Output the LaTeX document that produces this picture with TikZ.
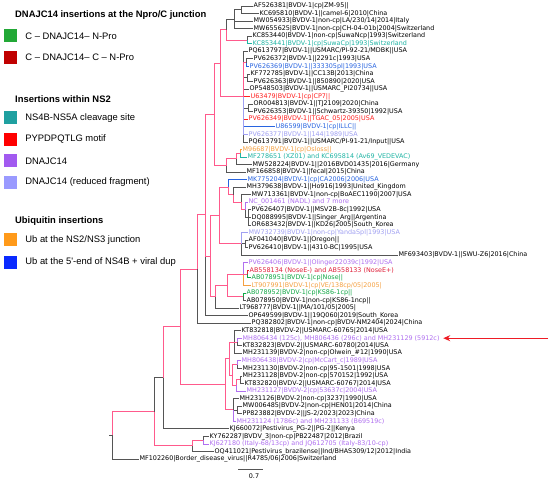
\documentclass[tikz,border=0pt]{standalone}
\usepackage{fontspec}
\setmainfont{DejaVu Sans}
\newfontfamily\legfont{Liberation Sans}
\usepackage{tikz}
\usetikzlibrary{positioning}
\usetikzlibrary{arrows.meta}

\definecolor{brpink}{HTML}{FF5A8C}
\definecolor{brgray}{HTML}{555555}
\definecolor{sgreen}{HTML}{22A836}
\definecolor{sdred}{HTML}{C00000}
\definecolor{steal}{HTML}{1FA0A0}
\definecolor{sred}{HTML}{FF0000}
\definecolor{spurple}{HTML}{A25AF0}
\definecolor{slpurple}{HTML}{9A9AFF}
\definecolor{sorange}{HTML}{FF9A1A}
\definecolor{sblue}{HTML}{0A2AFF}
\definecolor{tgreen}{HTML}{12A846}
\definecolor{tdred}{HTML}{E0203A}
\definecolor{tteal}{HTML}{1FB4A4}
\definecolor{tred}{HTML}{FF2020}
\definecolor{tpurple}{HTML}{B070F0}
\definecolor{tlpurple}{HTML}{A0A0F2}
\definecolor{torange}{HTML}{F5A040}
\definecolor{tblue}{HTML}{2864E0}
\definecolor{arrowred}{HTML}{EE1C25}

\newcommand\treefont{\fontsize{6.4}{7}\selectfont}
\newcommand\legtxtfont{\legfont\fontsize{9.4}{11}\selectfont}

\begin{document}
\begin{tikzpicture}[x=1pt, y=-1pt,
    lf/.style={line width=0.75pt},
    gr/.style={lf, brgray},
    pk/.style={line width=0.9pt, brpink},
    leaf/.style={anchor=west, inner sep=0.5pt, font=\treefont},
    swatch/.style={minimum size=13pt, inner sep=0pt},
    legtitle/.style={anchor=west, inner sep=0pt, font=\legtxtfont\bfseries},
    legtext/.style={inner sep=0pt, font=\legtxtfont},
    redarrow/.style={draw=arrowred, line width=1.3pt, -{Stealth[length=7pt,width=6pt]}}]
    \useasboundingbox (0,0) rectangle (550,481);
    \fill[white] (0,0) rectangle (550,481);

    % legend
    \node (ttl1) [legtitle] at (15,15) {DNAJC14 insertions at the Npro/C junction};
    \node (sw1) [swatch, fill=sgreen] at (10.5,36) {};
    \node (lg1) [legtext, right=8pt of sw1] {C – DNAJC14– N-Pro};
    \node (sw2) [swatch, fill=sdred, below=8pt of sw1] {};
    \node (lg2) [legtext, right=8pt of sw2] {C – DNAJC14– C – N-Pro};
    \node (ttl2) [legtitle] at (15,99) {Insertions within NS2};
    \node (sw3) [swatch, fill=steal] at (10.5,118) {};
    \node (lg3) [legtext, right=8pt of sw3] {NS4B-NS5A cleavage site};
    \node (sw4) [swatch, fill=sred, below=8pt of sw3] {};
    \node (lg4) [legtext, right=8pt of sw4] {PYPDPQTLG motif};
    \node (sw5) [swatch, fill=spurple, below=8pt of sw4] {};
    \node (lg5) [legtext, right=8pt of sw5] {DNAJC14};
    \node (sw6) [swatch, fill=slpurple, below=8pt of sw5] {};
    \node (lg6) [legtext, right=8pt of sw6] {DNAJC14 (reduced fragment)};
    \node (ttl3) [legtitle] at (15,221) {Ubiquitin insertions};
    \node (sw7) [swatch, fill=sorange] at (10.5,240) {};
    \node (lg7) [legtext, right=8pt of sw7] {Ub at the NS2/NS3 junction};
    \node (sw8) [swatch, fill=sblue, below=9pt of sw7] {};
    \node (lg8) [legtext, right=8pt of sw8] {Ub at the 5'-end of NS4B + viral dup};

    % tree, one row per leaf
    \begin{scope}[y=-7.55pt, yshift=1.55pt]
    \node (l1) [leaf] at (253,1) {AF526381|BVDV-1|cp|ZM-95||};
    \node (l2) [leaf] at (259,2) {KC695810|BVDV-1||camel-6|2010|China};
    \node (l3) [leaf] at (253,3) {MW054933|BVDV-1|non-cp|LA/230/14|2014|Italy};
    \node (l4) [leaf] at (253,4) {MW655625|BVDV-1|non-cp|CH-04-01b|2004|Switzerland};
    \node (l5) [leaf] at (252,5) {KC853440|BVDV-1|non-cp|SuwaNcp|1993|Switzerland};
    \node (l6) [leaf, text=tteal] at (252,6) {KC853441|BVDV-1|cp|SuwaCp|1993|Switzerland};
    \node (l7) [leaf] at (248,7) {PQ613797|BVDV-1||USMARC/PI-92-21/MDBK||USA};
    \node (l8) [leaf] at (253,8) {PV626372|BVDV-1||2291c|1993|USA};
    \node (l9) [leaf, text=tblue] at (249,9) {PV626369|BVDV-1||333305pl|1993|USA};
    \node (l10) [leaf] at (250,10) {KF772785|BVDV-1||CC13B|2013|China};
    \node (l11) [leaf] at (253,11) {PV626363|BVDV-1||850890|2020|USA};
    \node (l12) [leaf] at (249,12) {OP548503|BVDV-1||USMARC\_PI20734||USA};
    \node (l13) [leaf, text=tred] at (250,13) {U63479|BVDV-1|cp|CP7||};
    \node (l14) [leaf] at (253,14) {OR004813|BVDV-1||TJ2109|2020|China};
    \node (l15) [leaf] at (253,15) {PV626353|BVDV-1||Schwartz-39350|1992|USA};
    \node (l16) [leaf, text=tred] at (248,16) {PV626349|BVDV-1||TGAC\_05|2005|USA};
    \node (l17) [leaf, text=tblue] at (275,17) {U86599|BVDV-1|cp|ILLC||};
    \node (l18) [leaf, text=tlpurple] at (248,18) {PV626377|BVDV-1||144|1989|USA};
    \node (l19) [leaf] at (248,19) {PQ613791|BVDV-1||USMARC/PI-91-21/Input||USA};
    \node (l20) [leaf, text=torange] at (242,20) {M96687|BVDV-1|cp|Osloss||};
    \node (l21) [leaf, text=tteal] at (247,21) {MF278651 (XZ01) and KC695814 (Av69\_VEDEVAC)};
    \node (l22) [leaf] at (252,22) {MW528224|BVDV-1||2016BVD01435|2016|Germany};
    \node (l23) [leaf] at (246,23) {MF166858|BVDV-1||fecal|2015|China};
    \node (l24) [leaf, text=tblue] at (247,24) {MK775204|BVDV-1|cp|CA2006|2006|USA};
    \node (l25) [leaf] at (246,25) {MH379638|BVDV-1||Ho916|1993|United\_Kingdom};
    \node (l26) [leaf] at (251,26) {MW713361|BVDV-1|non-cp|BoAEC1190|2007|USA};
    \node (l27) [leaf, text=tpurple] at (248,27) {NC\_001461 (NADL) and 7 more};
    \node (l28) [leaf] at (251,28) {PV626407|BVDV-1||MSV2B-8c|1992|USA};
    \node (l29) [leaf] at (251,29) {DQ088995|BVDV-1||Singer\_Arg||Argentina};
    \node (l30) [leaf] at (251,30) {OR683432|BVDV-1||KD26|2005|South\_Korea};
    \node (l31) [leaf, text=tlpurple] at (248,31) {MW732739|BVDV-1|non-cp|YandaSpl|1993|USA};
    \node (l32) [leaf] at (248,32) {AF041040|BVDV-1||Oregon||};
    \node (l33) [leaf] at (248,33) {PV626410|BVDV-1||4310-BC|1995|USA};
    \node (l34) [leaf] at (398,34) {MF693403|BVDV-1||SWU-Z6|2016|China};
    \node (l35) [leaf, text=tpurple] at (248,35) {PV626406|BVDV-1||Olinger22039c|1992|USA};
    \node (l36) [leaf, text=tdred] at (249,36) {AB558134 (NoseE-) and AB558133 (NoseE+)};
    \node (l37) [leaf, text=tgreen] at (251,37) {AB078951|BVDV-1|cp|Nose||};
    \node (l38) [leaf, text=torange] at (251,38) {LT907991|BVDV-1|cp|VE/138cp/05|2005|};
    \node (l39) [leaf, text=tgreen] at (246,39) {AB078952|BVDV-1|cp|KS86-1cp||};
    \node (l40) [leaf] at (246,40) {AB078950|BVDV-1|non-cp|KS86-1ncp||};
    \node (l41) [leaf] at (239,41) {LT968777|BVDV-1||MA/101/05|2005|};
    \node (l42) [leaf] at (248,42) {OP649599|BVDV-1||19Q060|2019|South\_Korea};
    \node (l43) [leaf] at (251,43) {PQ382802|BVDV-1|non-cp|BVDV-NM2404|2024|China};
    \node (l44) [leaf] at (241,44) {KT832818|BVDV-2||USMARC-60765|2014|USA};
    \node (l45) [leaf, text=tpurple] at (242,45) {MH806434 (125c), MH806436 (296c) and MH231129 (5912c)};
    \node (l46) [leaf] at (242,46) {KT832823|BVDV-2||USMARC-60780|2014|USA};
    \node (l47) [leaf] at (242,47) {MH231139|BVDV-2|non-cp|Olwein\_\#12|1990|USA};
    \node (l48) [leaf, text=tpurple] at (241,48) {MH806438|BVDV-2|cp|McCart\_c|1989|USA};
    \node (l49) [leaf] at (242,49) {MH231130|BVDV-2|non-cp|95-1501|1998|USA};
    \node (l50) [leaf] at (242,50) {MH231128|BVDV-2|non-cp|570152|1992|USA};
    \node (l51) [leaf] at (244,51) {KT832820|BVDV-2||USMARC-60767|2014|USA};
    \node (l52) [leaf, text=tpurple] at (246,52) {MH231127|BVDV-2|cp|53637c|2004|USA};
    \node (l53) [leaf] at (239,53) {MH231126|BVDV-2|non-cp|3237|1990|USA};
    \node (l54) [leaf] at (242,54) {MW006485|BVDV-2|non-cp|HEN01|2014|China};
    \node (l55) [leaf] at (242,55) {PP823882|BVDV-2||JS-2/2023|2023|China};
    \node (l56) [leaf, text=tpurple] at (236,56) {MH231124 (1786c) and MH231133 (B69519c)};
    \node (l57) [leaf] at (229,57) {KJ660072|Pestivirus\_PG-2||PG-2||Kenya};
    \node (l58) [leaf] at (209,58) {KY762287|BVDV\_3|non-cp|PB22487|2012|Brazil};
    \node (l59) [leaf, text=tpurple] at (209,59) {KJ627180 (Italy-68/13cp) and JQ612705 (Italy-83/10-cp)};
    \node (l60) [leaf] at (214,60) {OQ411021|Pestivirus\_brazilense||Ind/BHAS309/12|2012|India};
    \node (l61) [leaf] at (139,61) {MF102260|Border\_disease\_virus||R4785/06|2006|Switzerland};

    % inner nodes
    \coordinate (a1) at (241,1.5);
    \coordinate (a2) at (234,2.75);
    \coordinate (a3) at (247,5.5);
    \coordinate (a4) at (226,4.13);
    \coordinate (b1) at (246,8.5);
    \coordinate (b2) at (247,10.5);
    \coordinate (b3) at (248,14.5);
    \coordinate (b0) at (243,13);
    \coordinate (a5) at (220,8.56);
    \coordinate (c1) at (240,20.5);
    \coordinate (c2) at (236,21.25);
    \coordinate (c3) at (226,22.13);
    \coordinate (c4) at (214,15.34);
    \coordinate (d1) at (248,29);
    \coordinate (d2) at (245,28);
    \coordinate (d3) at (241,27);
    \coordinate (d4) at (233,26);
    \coordinate (d5) at (228,25);
    \coordinate (e1) at (245,32.5);
    \coordinate (e2) at (241,32.5);
    \coordinate (f1) at (247,36.5);
    \coordinate (f2) at (243,36.5);
    \coordinate (g1) at (243,39.5);
    \coordinate (h1) at (227,38);
    \coordinate (i1) at (219,28.75);
    \coordinate (k1) at (215,39.5);
    \coordinate (k2) at (210,34.13);
    \coordinate (k3) at (205,28.67);
    \coordinate (bv1) at (197,35.84);
    \coordinate (m1) at (237,45.5);
    \coordinate (m2) at (234,45.5);
    \coordinate (m3) at (237,48.5);
    \coordinate (m4) at (240,50.5);
    \coordinate (m5) at (236,51.25);
    \coordinate (m6) at (232,49.88);
    \coordinate (m7) at (229,47.69);
    \coordinate (n1) at (237,54.5);
    \coordinate (n2) at (233,54.5);
    \coordinate (bv2) at (225,51.09);
    \coordinate (bv12) at (180,43.46);
    \coordinate (pg) at (163,50.23);
    \coordinate (p1) at (203,58.5);
    \coordinate (bv3) at (192,59.25);
    \coordinate (ingroup) at (154,54.74);
    \coordinate (root) at (112,57.87);
    \coordinate (roottick) at (109,57.87);
    \coordinate (arrowtail) at (548,45);
    \end{scope}

    % gray branches
    \draw[gr] (a1) |- (l1.west) (a1) |- (l2.west) (a2) |- (a1) (a2) |- (l3.west) (a2) |- (l4.west)
        (a4) |- (a2) (a3) |- (l5.west) (b0) |- (l7.west) (b1) |- (l8.west) (b0) |- (b2)
        (b2) |- (l10.west) (b2) |- (l11.west) (b0) |- (l12.west) (b0) |- (b3)
        (b3) |- (l14.west) (b3) |- (l15.west) (b0) |- (l19.west) (c2) |- (l22.west)
        (c3) |- (l23.west) (d4) |- (l25.west) (d3) |- (l26.west) (d2) |- (d1)
        (d1) |- (l28.west) (d1) |- (l29.west) (d1) |- (l30.west) (e2) |- (e1)
        (e1) |- (l32.west) (e1) |- (l33.west) (e2) |- (l34.west) (g1) |- (l40.west)
        (k1) |- (l41.west) (k3) |- (l42.west) (bv1) |- (l43.west)
        (m2) |- (l44.west) (m1) |- (l46.west) (m2) |- (l47.west) (m3) |- (l49.west)
        (m4) |- (l50.west) (m4) |- (l51.west) (n2) |- (l53.west) (n1) |- (l54.west)
        (n1) |- (l55.west) (n2) |- (n1) (pg) |- (l57.west) (p1) |- (l58.west)
        (bv3) |- (l60.west) (ingroup) |- (pg) (root) |- (l61.west) (root) -- (roottick);
    % branches to marked strains
    \draw[lf, tteal] (a3) |- (l6.west) (c1) |- (l21.west);
    \draw[lf, tblue] (b1) |- (l9.west) (b0) |- (l17.west) (d5) |- (l24.west);
    \draw[lf, tred] (b0) |- (l13.west) (b0) |- (l16.west);
    \draw[lf, tlpurple] (b0) |- (l18.west) (e2) |- (l31.west);
    \draw[lf, torange] (c1) |- (l20.west) (f2) |- (l38.west);
    \draw[lf, tdred] (f1) |- (l36.west);
    \draw[lf, tgreen] (f1) |- (l37.west) (g1) |- (l39.west);
    \draw[lf, tpurple] (d2) |- (l27.west) (f2) |- (l35.west) (m1) |- (l45.west)
        (m3) |- (l48.west) (m5) |- (l52.west) (n2) |- (l56.west) (p1) |- (l59.west);
    % pink branches
    \draw[pk] (root) |- (ingroup) (ingroup) |- (bv3) (bv3) |- (p1) (pg) |- (bv12)
        (bv12) |- (bv1) (bv12) |- (bv2) (bv1) |- (k3) (k3) |- (c4) (k3) |- (k2)
        (c4) |- (a5) (c4) |- (c3) (a5) |- (a4) (a5) |- (b0) (a4) |- (a3)
        (c3) |- (c2) (c2) |- (c1) (k2) |- (i1) (k2) |- (k1) (k1) |- (h1)
        (h1) |- (f2) (h1) |- (g1) (f2) |- (f1) (i1) |- (d5) (i1) |- (e2)
        (d5) |- (d4) (d4) |- (d3) (d3) |- (d2) (bv2) |- (m7) (bv2) |- (n2)
        (m7) |- (m2) (m7) |- (m6) (m6) |- (m3) (m6) |- (m5) (m5) |- (m4)
        (m2) |- (m1) (b0) |- (b1);

    % scale bar
    \coordinate (sbleft) at (238,469);
    \coordinate (sbright) at (263,469);
    \draw[gr] (sbleft) -- (sbright);
    \node (sblabel) [font=\treefont] at (254,476) {0.7};

    \draw[redarrow] (arrowtail) -- ([xshift=3pt]l45.east);
\end{tikzpicture}
\end{document}
